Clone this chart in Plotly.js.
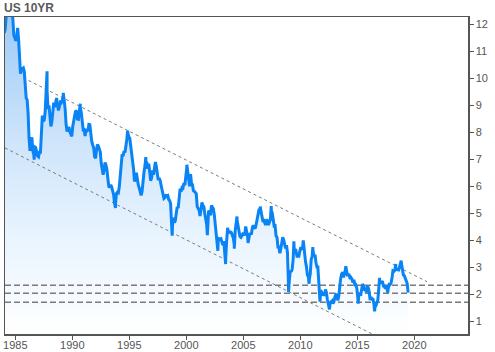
<!DOCTYPE html>
<html>
<head>
<meta charset="utf-8">
<script src="https://cdn.plot.ly/plotly-3.0.1.min.js"></script>
<style>html,body{margin:0;padding:0;background:#fff;}#chart{width:495px;height:352px;}</style>
</head>
<body>
<div id="chart"></div>
<script>
// US 10-year Treasury yield, monthly values from Jan 1984 to Jun 2019
const startYear = 1984;
const yieldMonthly = [
  11.67, 11.84, 12.32, 12.63, 13.41, 13.56, 13.36, 12.72, 12.52, 12.16, 11.57, 11.50, // 1984
  11.38, 11.51, 11.86, 11.43, 10.85, 10.16, 10.31, 10.33, 10.37, 10.24, 9.78, 9.26,   // 1985
  9.19, 8.70, 7.78, 7.30, 7.71, 7.80, 7.30, 7.17, 7.45, 7.43, 7.25, 7.11,             // 1986
  7.08, 7.25, 7.25, 8.02, 8.61, 8.40, 8.45, 8.76, 9.42, 9.52, 8.86, 8.99,             // 1987
  8.67, 8.21, 8.37, 8.72, 9.09, 8.92, 9.06, 9.26, 8.98, 8.80, 8.96, 9.11,             // 1988
  9.09, 9.17, 9.36, 9.18, 8.86, 8.28, 8.02, 8.11, 8.19, 8.01, 7.87, 7.84,             // 1989
  8.21, 8.47, 8.59, 8.79, 8.76, 8.48, 8.47, 8.75, 8.89, 8.72, 8.39, 8.08,             // 1990
  8.09, 7.85, 8.11, 8.04, 8.07, 8.28, 8.27, 7.90, 7.65, 7.53, 7.42, 7.09,             // 1991
  7.03, 7.34, 7.54, 7.48, 7.39, 7.26, 6.84, 6.59, 6.42, 6.59, 6.87, 6.77,             // 1992
  6.60, 6.26, 5.98, 5.97, 6.04, 5.96, 5.81, 5.68, 5.36, 5.33, 5.72, 5.77,             // 1993
  5.75, 5.97, 6.48, 6.97, 7.18, 7.10, 7.30, 7.24, 7.46, 7.74, 7.96, 7.81,             // 1994
  7.78, 7.47, 7.20, 7.06, 6.63, 6.17, 6.28, 6.49, 6.20, 6.04, 5.93, 5.71,             // 1995
  5.65, 5.81, 6.27, 6.51, 6.74, 6.91, 6.87, 6.64, 6.83, 6.53, 6.20, 6.30,             // 1996
  6.58, 6.42, 6.69, 6.89, 6.71, 6.49, 6.22, 6.30, 6.21, 6.03, 5.88, 5.81,             // 1997
  5.54, 5.57, 5.65, 5.64, 5.65, 5.50, 5.46, 5.34, 4.81, 4.53, 4.83, 4.65,             // 1998
  4.72, 5.00, 5.23, 5.18, 5.54, 5.90, 5.79, 5.94, 5.92, 6.11, 6.03, 6.28,             // 1999
  6.66, 6.52, 6.26, 5.99, 6.44, 6.10, 6.05, 5.83, 5.80, 5.74, 5.72, 5.24,             // 2000
  5.16, 5.10, 4.89, 5.14, 5.39, 5.28, 5.24, 4.97, 4.73, 4.57, 4.65, 5.09,             // 2001
  5.04, 4.91, 5.28, 5.21, 5.16, 4.93, 4.65, 4.26, 3.87, 3.94, 4.05, 4.03,             // 2002
  4.05, 3.90, 3.81, 3.96, 3.57, 3.33, 3.98, 4.45, 4.27, 4.29, 4.30, 4.27,             // 2003
  4.15, 4.08, 3.83, 4.35, 4.72, 4.73, 4.50, 4.28, 4.13, 4.10, 4.19, 4.23,             // 2004
  4.22, 4.17, 4.50, 4.34, 4.14, 4.00, 4.18, 4.26, 4.20, 4.46, 4.54, 4.47,             // 2005
  4.42, 4.57, 4.72, 4.99, 5.11, 5.11, 5.09, 4.88, 4.72, 4.73, 4.60, 4.56,             // 2006
  4.76, 4.72, 4.56, 4.69, 4.75, 5.10, 5.00, 4.67, 4.52, 4.53, 4.15, 4.10,             // 2007
  3.74, 3.74, 3.51, 3.68, 3.88, 4.10, 4.01, 3.89, 3.69, 3.81, 3.53, 2.42,             // 2008
  2.52, 2.87, 2.82, 2.93, 3.29, 3.72, 3.56, 3.59, 3.40, 3.39, 3.40, 3.59,             // 2009
  3.73, 3.69, 3.73, 3.85, 3.42, 3.20, 3.01, 2.70, 2.65, 2.54, 2.76, 3.29,             // 2010
  3.39, 3.58, 3.41, 3.46, 3.17, 3.00, 3.00, 2.30, 1.98, 2.15, 2.01, 1.98,             // 2011
  1.97, 1.97, 2.17, 2.05, 1.80, 1.62, 1.53, 1.68, 1.72, 1.75, 1.65, 1.72,             // 2012
  1.91, 1.98, 1.96, 1.76, 1.93, 2.30, 2.58, 2.74, 2.81, 2.62, 2.72, 2.90,             // 2013
  2.86, 2.71, 2.72, 2.71, 2.56, 2.60, 2.54, 2.42, 2.53, 2.30, 2.33, 2.21,             // 2014
  1.88, 1.98, 2.04, 1.94, 2.20, 2.36, 2.32, 2.17, 2.17, 2.07, 2.26, 2.24,             // 2015
  2.09, 1.78, 1.89, 1.81, 1.81, 1.64, 1.50, 1.56, 1.63, 1.76, 2.14, 2.49,             // 2016
  2.43, 2.42, 2.48, 2.30, 2.30, 2.19, 2.32, 2.21, 2.20, 2.36, 2.35, 2.40,             // 2017
  2.58, 2.86, 2.84, 2.87, 2.98, 2.91, 2.89, 2.89, 3.00, 3.15, 3.12, 2.83,             // 2018
  2.71, 2.68, 2.57, 2.53, 2.40, 2.05                                                  // 2019
];
// intra-month highs and lows visible in the chart
const extremeDates  = [1986.66, 1987.79, 1989.21, 1990.70, 1993.79, 1994.85, 1996.45, 1998.76, 2000.05,
                       2001.85, 2002.77, 2003.45, 2004.21, 2004.45, 2005.42, 2006.49, 2007.45, 2008.97,
                       2009.44, 2010.26, 2010.77, 2011.10, 2011.73, 2012.56, 2013.99, 2015.08, 2016.52,
                       2016.95, 2017.68, 2018.37, 2018.85];
const extremeValues = [6.98, 10.25, 9.45, 9.05, 5.19, 8.05, 7.07, 4.16, 6.79,
                       4.18, 3.60, 3.11, 3.68, 4.87, 3.89, 5.24, 5.26, 2.08,
                       3.95, 3.99, 2.38, 3.74, 1.72, 1.43, 3.03, 1.64, 1.36,
                       2.60, 2.05, 3.11, 3.24];
// channel lines
const upperTrendX = [1985.70, 2021.11];
const upperTrendY = [10.01, 2.46];
const lowerTrendX = [1984.10, 2016.30];
const lowerTrendY = [7.41, 0.52];
// horizontal levels
const levels = [2.33, 2.03, 1.70];
const lastValue = 2.05;
const xTicks = [1985, 1990, 1995, 2000, 2005, 2010, 2015, 2020];
const yTicks = [1, 2, 3, 4, 5, 6, 7, 8, 9, 10, 11, 12];

const xRange = [1984.10, 2024.71];
const yRange = [0.52, 12.26];

const pts = yieldMonthly.map((v, i) => [startYear + (i + 0.5) / 12, v])
  .concat(extremeDates.map((d, i) => [d, extremeValues[i]]))
  .sort((a, b) => a[0] - b[0]);
const xs = pts.map(p => p[0]);
const ys = pts.map(p => p[1]);

const blue = '#0a84f5';
const gray = '#7a7a7a';
const traces = [];
traces.push({
  x: xs, y: ys, type: 'scatter', mode: 'lines', fill: 'tozeroy',
  line: {width: 0, color: 'rgba(0,0,0,0)'},
  fillgradient: {type: 'vertical', start: yRange[0], stop: yRange[1],
    colorscale: [[0, '#ffffff'], [0.3, '#e9f4fe'], [0.6, '#cfe5fb'], [1, '#9fcbf6']]},
  hoverinfo: 'skip', showlegend: false
});
traces.push({x: upperTrendX, y: upperTrendY, type: 'scatter', mode: 'lines',
  line: {color: gray, width: 1, dash: '3px,3px'}, showlegend: false});
traces.push({x: lowerTrendX, y: lowerTrendY, type: 'scatter', mode: 'lines',
  line: {color: gray, width: 1, dash: '3px,3px'}, showlegend: false});
levels.forEach(l => traces.push({x: xRange, y: [l, l], type: 'scatter', mode: 'lines',
  line: {color: gray, width: 1.5, dash: '6px,3px'}, showlegend: false}));
traces.push({x: xs, y: ys, type: 'scatter', mode: 'lines',
  line: {color: blue, width: 3}, showlegend: false});
traces.push({x: [xRange[1] + 4 / 11.4], y: [lastValue], type: 'scatter', mode: 'markers',
  marker: {symbol: 'diamond', size: 6, color: blue}, cliponaxis: false, showlegend: false});

const font = {family: 'Liberation Sans, Arial, sans-serif', size: 11, color: '#555'};
const layout = {
  width: 495, height: 352,
  margin: {l: 5, r: 27, t: 17, b: 18, pad: 0},
  paper_bgcolor: '#fff', plot_bgcolor: '#fff',
  showlegend: false,
  title: {text: '<b>US 10YR</b>', font: {family: 'Liberation Sans, Arial, sans-serif', size: 12, color: '#5a5a5a'},
    xref: 'container', yref: 'container', x: 4 / 495, xanchor: 'left', y: 1 - 8 / 352, yanchor: 'middle'},
  xaxis: {range: xRange, tickvals: xTicks, ticktext: xTicks.map(String), ticks: 'outside', ticklen: 4,
    tickcolor: '#555', showline: true, linecolor: '#555', linewidth: 1.5, mirror: true,
    showgrid: false, zeroline: false, tickfont: font, ticklabelstandoff: -4, fixedrange: true},
  yaxis: {range: yRange, side: 'right', tickvals: yTicks, ticktext: yTicks.map(String), ticks: 'outside',
    ticklen: 4, tickcolor: '#555', showline: true, linecolor: '#555', linewidth: 1.5, mirror: true,
    showgrid: false, zeroline: false, tickfont: font, fixedrange: true}
};
Plotly.newPlot('chart', traces, layout, {staticPlot: true, displayModeBar: false});
</script>
</body>
</html>
